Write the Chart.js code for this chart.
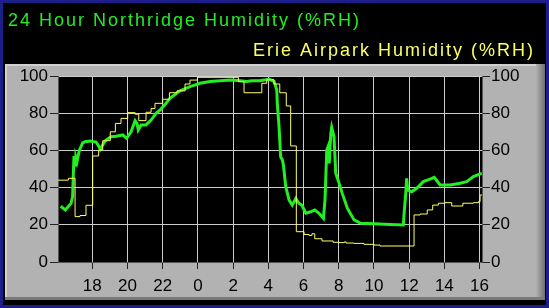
<!DOCTYPE html>
<html>
<head>
<meta charset="utf-8">
<script src="https://cdn.jsdelivr.net/npm/chart.js@4"></script>
<style>
  html, body { margin: 0; padding: 0; background: #000; }
  #wrap { width: 549px; height: 308px; }
</style>
</head>
<body>
<div id="wrap"><canvas id="humidityChart" width="549" height="308"></canvas></div>
<script>
// Titles
const northridgeTitle = "24 Hour Northridge Humidity (%RH)";
const erieTitle = "Erie Airpark Humidity (%RH)";

// Hours since midnight of day one (values past 24 are the next day)
const xTickHours = [18, 20, 22, 24, 26, 28, 30, 32, 34, 36, 38, 40];
const yTickValues = [0, 20, 40, 60, 80, 100];

// Northridge humidity (green)
const northridgeHours = [16.2, 16.47, 16.79, 16.88, 16.93, 16.96, 17.02, 17.07, 17.13, 17.26, 17.45, 17.59, 17.87, 18.21, 18.35, 18.45, 18.59, 18.78, 19.06, 19.35, 19.57, 19.73, 19.95, 20.2, 20.43, 20.54, 20.61, 20.77, 21.05, 21.34, 21.62, 21.85, 22.19, 22.41, 22.98, 23.55, 24.12, 24.69, 25.26, 25.82, 26.39, 26.77, 27.06, 27.53, 27.76, 28.04, 28.33, 28.48, 28.51, 28.61, 28.7, 28.8, 28.86, 28.99, 29.18, 29.36, 29.56, 29.74, 29.91, 30.13, 30.41, 30.64, 30.88, 31.13, 31.22, 31.32, 31.39, 31.46, 31.55, 31.6, 31.73, 31.83, 32.02, 32.2, 32.49, 32.87, 33.25, 34.01, 34.92, 35.67, 35.73, 35.81, 35.86, 35.92, 36.15, 36.43, 36.81, 37.19, 37.43, 37.76, 38.33, 38.9, 39.27, 39.65, 40.13];
const northridgeValues = [30, 28, 31.5, 35, 50, 57, 52, 56, 54, 60, 64, 64.7, 65, 64.5, 62.5, 60.6, 63, 65.6, 67.4, 67.6, 68, 68.3, 66.5, 70, 76, 74.5, 71, 73.7, 73.7, 76.3, 80, 81.7, 85.3, 88, 92.1, 94.3, 96.1, 97, 97.5, 97.8, 97.5, 97, 97.5, 97.5, 97.8, 98.4, 97, 92.5, 85.3, 72.7, 56.6, 54.8, 52, 40.5, 33.3, 30.6, 34.2, 31.6, 30.5, 26.2, 27, 28, 26.2, 23.5, 33.3, 60.2, 62, 53, 69.2, 72.4, 67.4, 47.7, 42.3, 36.9, 28.9, 22.6, 20.8, 20.5, 20.2, 19.9, 28, 36.9, 45, 38.7, 37.8, 39.6, 43.2, 44.5, 45.5, 41.4, 41.4, 42.3, 43.2, 45.9, 47.7];

// Erie Airpark humidity (yellow, stepped)
const erieHours = [16.05, 16.64, 17.02, 17.3, 17.64, 18.02, 18.36, 18.59, 19.02, 19.31, 19.63, 20.01, 20.43, 20.64, 21.05, 21.34, 21.56, 22.0, 22.38, 22.81, 23.27, 23.55, 23.97, 26.3, 26.62, 27.63, 27.91, 28.32, 28.65, 29.02, 29.27, 29.59, 30.03, 30.31, 30.48, 30.64, 31.05, 31.68, 32.02, 32.31, 32.42, 32.87, 33.44, 34.01, 34.35, 36.28, 36.62, 37.03, 37.34, 37.66, 38.04, 38.42, 39.05, 39.65, 39.93, 40.03, 40.14];
const erieValues = [44, 45, 24.4, 25, 30.5, 57, 60.2, 65.2, 70, 74.5, 77.2, 80.3, 79.5, 76, 80.5, 82.5, 85.3, 87.5, 91, 92, 95.7, 97.8, 99.3, 97, 91, 96.1, 98, 95.7, 91, 83.9, 62.4, 16.3, 14.8, 14.3, 15.2, 12.5, 11.3, 10.6, 10.4, 10.8, 10.2, 10, 9.5, 9.1, 8.6, 25.3, 25.8, 28, 30.6, 31.6, 31.9, 30.1, 31.6, 31.9, 32.4, 36, 36];

const GREEN = "#22ee22";
const YELLOW = "#ffff66";
const FONT = "'Liberation Sans', Arial, sans-serif";

// Background, bevelled gray panel and the two titles
const framePlugin = {
  id: "frame",
  beforeDraw(chart) {
    const ctx = chart.ctx;
    const { width, height, chartArea } = chart;
    ctx.save();
    ctx.fillStyle = "#000";
    ctx.fillRect(0, 0, width, height);

    // blue window border
    ctx.strokeStyle = "#1e1e8a";
    ctx.lineWidth = 3;
    ctx.strokeRect(1.5, 1.5, width - 3, height - 3);

    // gray panel
    ctx.fillStyle = "#b2b2b2";
    ctx.fillRect(5, 64, 540, 236);
    ctx.fillStyle = "#d0d0d0";
    ctx.fillRect(5, 64, 540, 2);
    ctx.fillRect(5, 64, 2, 236);
    const g = ctx.createLinearGradient(536, 0, 545, 0);
    g.addColorStop(0, "#b2b2b2");
    g.addColorStop(1, "#6e6e6e");
    ctx.fillStyle = g;
    ctx.fillRect(536, 64, 9, 236);
    ctx.fillStyle = "#7a7a7a";
    ctx.fillRect(5, 297, 540, 3);

    // plot area
    ctx.fillStyle = "#000";
    ctx.fillRect(chartArea.left, chartArea.top, chartArea.right - chartArea.left, chartArea.bottom - chartArea.top);

    // titles
    ctx.font = "18px " + FONT;
    ctx.letterSpacing = "2px";
    ctx.textBaseline = "alphabetic";
    ctx.fillStyle = GREEN;
    ctx.textAlign = "left";
    ctx.fillText(northridgeTitle, 8, 26);
    ctx.fillStyle = YELLOW;
    ctx.textAlign = "right";
    ctx.fillText(erieTitle, 535, 56);
    ctx.restore();
  },
};

const ctx = document.getElementById("humidityChart").getContext("2d");

new Chart(ctx, {
  type: "line",
  data: {
    datasets: [
      {
        label: erieTitle,
        data: erieHours.map((h, i) => ({ x: h, y: erieValues[i] })),
        borderColor: YELLOW,
        borderWidth: 1,
        stepped: true,
        pointRadius: 0,
        fill: false,
      },
      {
        label: northridgeTitle,
        data: northridgeHours.map((h, i) => ({ x: h, y: northridgeValues[i] })),
        borderColor: GREEN,
        borderWidth: 3,
        tension: 0,
        pointRadius: 0,
        fill: false,
      },
    ],
  },
  options: {
    responsive: false,
    animation: false,
    events: [],
    layout: { padding: { top: 76, left: 0, right: 0, bottom: 0 } },
    plugins: {
      legend: { display: false },
      title: { display: false },
      tooltip: { enabled: false },
    },
    scales: {
      x: {
        type: "linear",
        min: 16.05,
        max: 40.14,
        afterFit: (s) => { s.height = 46; },
        afterBuildTicks: (s) => { s.ticks = xTickHours.map((v) => ({ value: v })); },
        grid: { color: "#cccccc", tickColor: "#222", tickLength: 7, lineWidth: 1 },
        border: { display: true, color: "#555" },
        ticks: {
          color: "#000",
          font: { family: FONT, size: 17 },
          padding: 7,
          maxRotation: 0,
          autoSkip: false,
          callback: (v) => String(v % 24),
        },
      },
      y: {
        position: "left",
        min: 0,
        max: 100,
        afterFit: (s) => { s.width = 58; },
        afterBuildTicks: (s) => { s.ticks = yTickValues.map((v) => ({ value: v })); },
        grid: { color: "#cccccc", tickColor: "#222", tickLength: 8 },
        border: { display: true, color: "#555" },
        ticks: { color: "#000", font: { family: FONT, size: 17 }, padding: 2 },
      },
      y2: {
        position: "right",
        min: 0,
        max: 100,
        afterFit: (s) => { s.width = 67; },
        afterBuildTicks: (s) => { s.ticks = yTickValues.map((v) => ({ value: v })); },
        grid: { drawOnChartArea: false, tickColor: "#222", tickLength: 8 },
        border: { display: true, color: "#555" },
        ticks: { color: "#000", font: { family: FONT, size: 17 }, padding: 1 },
      },
    },
  },
  plugins: [framePlugin],
});
</script>
</body>
</html>
